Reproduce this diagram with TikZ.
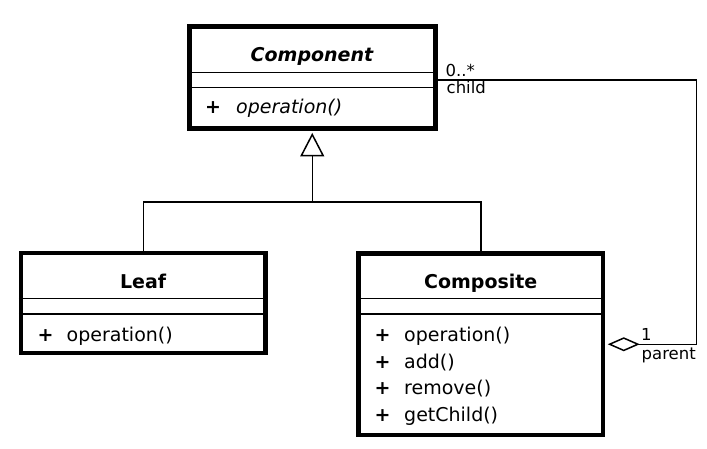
\documentclass[tikz,border=0pt]{standalone}
\usepackage{fontspec}
\setmainfont{DejaVu Sans}
\usetikzlibrary{arrows.meta,calc}
\begin{document}
\begin{tikzpicture}[x=1pt,y=-1pt,
  classbox/.style={draw,line width=4.5pt,rectangle,inner sep=0pt},
  sepline/.style={line width=1.5pt},
  conn/.style={line width=1.5pt},
  txt/.style={inner sep=0pt,font=\fontsize{19}{23}\selectfont},
  lbl/.style={inner sep=0pt,anchor=base west,font=\fontsize{16.5}{19}\selectfont}]
\useasboundingbox (0,0) rectangle (707,449);
% class boxes
\node[classbox,minimum width=246pt,minimum height=102pt] (comp) at (312.25,77.3) {};
\node[classbox,minimum width=244.5pt,minimum height=100pt] (leaf) at (143.25,303) {};
\node[classbox,minimum width=244.5pt,minimum height=181.5pt] (compo) at (480.75,344.25) {};
% compartments
\draw[sepline] (comp.west |- 0,72.3) -- (comp.east |- 0,72.3);
\draw[sepline] (comp.west |- 0,87.7) -- (comp.east |- 0,87.7);
\draw[sepline] (leaf.west |- 0,298.3) -- (leaf.east |- 0,298.3);
\draw[sepline] (leaf.west |- 0,314) -- (leaf.east |- 0,314);
\draw[sepline] (compo.west |- 0,298.3) -- (compo.east |- 0,298.3);
\draw[sepline] (compo.west |- 0,314) -- (compo.east |- 0,314);
% texts
\node[txt,anchor=base] (compT) at (312.25,61.5) {\textbf{\textit{Component}}};
\node[txt,anchor=base west] (compP) at (205,113.5) {\textbf{+}};
\node[txt,anchor=base west] (compM) at (236,113.5) {\textit{operation()}};
\node[txt,anchor=base] (leafT) at (143.25,288.3) {\textbf{Leaf}};
\node[txt,anchor=base west] (leafP) at (37.5,341.5) {\textbf{+}};
\node[txt,anchor=base west] (leafM) at (66.5,341.5) {operation()};
\node[txt,anchor=base] (compoT) at (480.75,288.3) {\textbf{Composite}};
\node[txt,anchor=base west] (p1) at (374.5,341.5) {\textbf{+}};
\node[txt,anchor=base west] (m1) at (404,341.5) {operation()};
\node[txt,anchor=base west] (p2) at (374.5,368.2) {\textbf{+}};
\node[txt,anchor=base west] (m2) at (404,368.2) {add()};
\node[txt,anchor=base west] (p3) at (374.5,394.9) {\textbf{+}};
\node[txt,anchor=base west] (m3) at (404,394.9) {remove()};
\node[txt,anchor=base west] (p4) at (374.5,421.6) {\textbf{+}};
\node[txt,anchor=base west] (m4) at (404,421.6) {getChild()};
% generalization
\coordinate (j) at (312.25,202);
\draw[conn] (leaf.north) |- (j) -| (compo.north);
\draw[conn,-{Triangle[open,length=23.5pt,width=24pt]}] (j) -- ($(comp.south)+(0,2.4)$);
% association
\coordinate (r1) at (696.7,80);
\draw[conn,-{Diamond[open,length=32pt,width=14pt]},shorten >=2.5pt] (comp.east |- r1) -- (r1) |- (compo.east);
\node[lbl] (mult1) at (445.5,76.5) {0..*};
\node[lbl] (role1) at (446.5,94) {child};
\node[lbl] (mult2) at (641,340) {1};
\node[lbl] (role2) at (641.5,359) {parent};
\end{tikzpicture}
\end{document}
